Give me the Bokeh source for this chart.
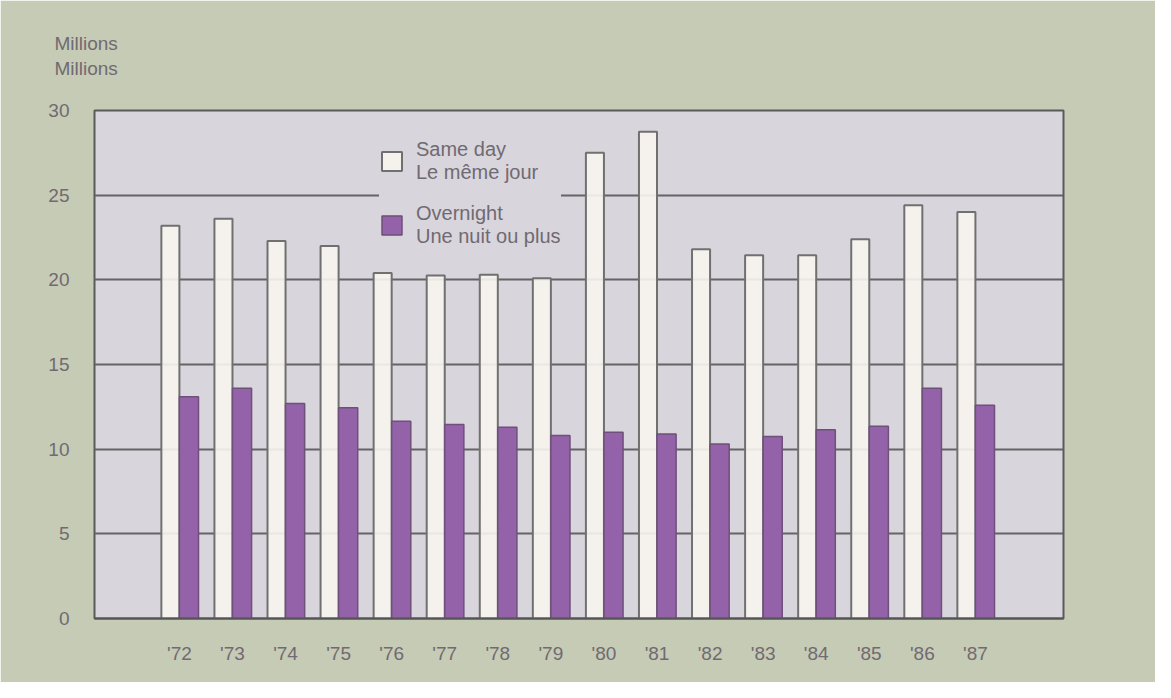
from bokeh.plotting import figure
from bokeh.models import (ColumnDataSource, Range1d, FixedTicker, Legend, LegendItem,
                          Title)
from bokeh.embed import file_html
from bokeh.resources import INLINE

# ---- data ----
years = ["'72", "'73", "'74", "'75", "'76", "'77", "'78", "'79",
         "'80", "'81", "'82", "'83", "'84", "'85", "'86", "'87"]
same_day = [23.2, 23.6, 22.3, 22.0, 20.4, 20.25, 20.3, 20.1,
            27.5, 28.75, 21.8, 21.45, 21.45, 22.4, 24.4, 24.0]
overnight = [13.1, 13.6, 12.7, 12.45, 11.65, 11.45, 11.3, 10.8,
             11.0, 10.9, 10.3, 10.75, 11.15, 11.35, 13.6, 12.6]
y_ticks = [0, 5, 10, 15, 20, 25, 30]
label_same = "Same day\nLe même jour"
label_over = "Overnight\nUne nuit ou plus"
unit_title = "Millions\nMillions"

idx = list(range(len(years)))
src = ColumnDataSource(dict(
    x_same=[i - 0.17 for i in idx],
    x_over=[i + 0.18 for i in idx],
    same=same_day, over=overnight))

SAGE = "#c6cbb5"
PLOTBG = "#d9d5dc"
TXT = "#706a72"
PURPLE = "#9462a8"

p = figure(frame_width=969, frame_height=508,
           min_border_left=94, min_border_right=92,
           min_border_top=110, min_border_bottom=64,
           x_range=Range1d(-1.60, 16.66), y_range=Range1d(0, 30),
           output_backend="svg", toolbar_location=None,
           background_fill_color=PLOTBG, border_fill_color=SAGE)

p.outline_line_color = "#5a5a5a"
p.outline_line_width = 2

# unit title (top-left)
p.title = Title(text=unit_title, align="left", offset=-40, standoff=62,
                text_font="Liberation Sans", text_font_size="19px",
                text_font_style="normal", text_color=TXT,
                text_line_height=1.2)

# grid
p.xgrid.grid_line_color = None
p.ygrid.ticker = FixedTicker(ticks=[5, 10, 15, 20, 25])
p.ygrid.grid_line_color = "#646464"
p.ygrid.grid_line_width = 2

# bars
r_same = p.vbar(x="x_same", top="same", width=0.34, bottom=0, source=src,
                fill_color="#f7f5ef", fill_alpha=0.9,
                line_color="#707070", line_width=2)
r_over = p.vbar(x="x_over", top="over", width=0.36, bottom=0, source=src,
                fill_color=PURPLE, line_color="#6e507a", line_width=1.5)

# axes
p.xaxis.ticker = FixedTicker(ticks=idx)
p.xaxis.major_label_overrides = {i: y for i, y in zip(idx, years)}
p.yaxis.ticker = FixedTicker(ticks=y_ticks)
for ax in (p.xaxis[0], p.yaxis[0]):
    ax.major_tick_line_color = None
    ax.minor_tick_line_color = None
    ax.major_label_text_color = TXT
    ax.major_label_text_font = "Liberation Sans"
    ax.major_label_text_font_size = "19px"
p.yaxis.axis_line_color = None
p.xaxis.axis_line_color = "#555555"
p.xaxis.axis_line_width = 2
p.yaxis.major_label_standoff = 19
p.xaxis.major_label_standoff = 18

# legend
legend = Legend(items=[LegendItem(label=label_same, renderers=[r_same]),
                       LegendItem(label=label_over, renderers=[r_over])],
                location=(285, 370), orientation="vertical",
                glyph_width=25, glyph_height=24, label_standoff=12,
                spacing=18, padding=4, margin=0,
                background_fill_color=PLOTBG, background_fill_alpha=1.0,
                border_line_color=None,
                label_text_font="Liberation Sans", label_text_font_size="20px",
                label_text_color=TXT, label_text_line_height=1.12)
p.add_layout(legend)

open("out.html", "w").write(file_html(p, INLINE))
